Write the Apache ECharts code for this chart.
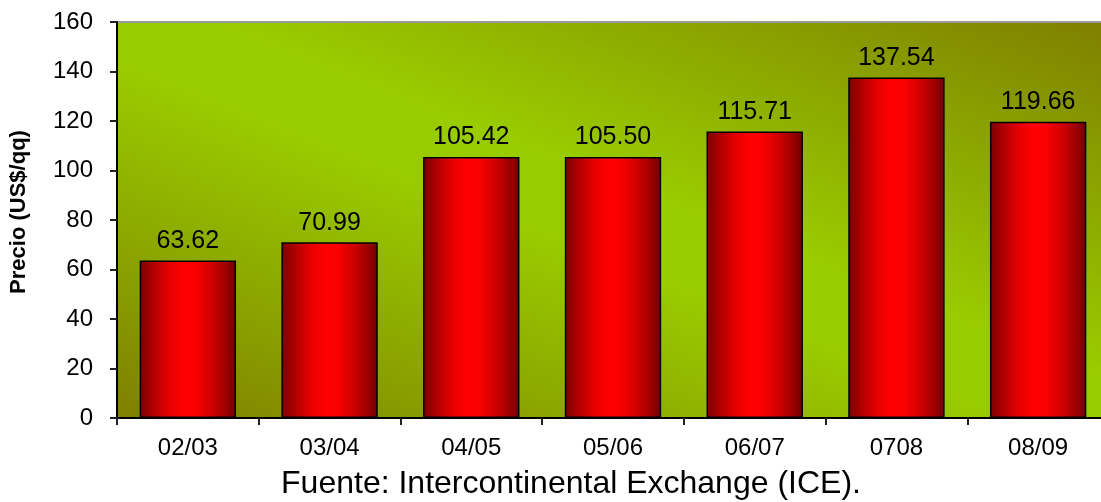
<!DOCTYPE html>
<html>
<head>
<meta charset="utf-8">
<script src="https://cdn.jsdelivr.net/npm/echarts@6/dist/echarts.min.js"></script>
<style>
  html, body { margin: 0; padding: 0; background: #ffffff; }
  #chart { width: 1101px; height: 502px; }
</style>
</head>
<body>
<div id="chart"></div>
<script>
// Marketing-year labels and average prices (US$/qq)
const seasons = ['02/03', '03/04', '04/05', '05/06', '06/07', '0708', '08/09'];
const prices = [63.62, 70.99, 105.42, 105.50, 115.71, 137.54, 119.66];
const yTicks = [0, 20, 40, 60, 80, 100, 120, 140, 160];

const FONT = '"Liberation Sans", Arial, sans-serif';

// Plot rectangle (the plot runs a little past the right edge of the page)
const plot = { left: 117, top: 22, width: 992, height: 396 };

// Diagonal olive → green → olive fill, iso-lines parallel to the top-left/bottom-right diagonal
function plotGradient() {
  const cx = plot.left + plot.width / 2;
  const cy = plot.top + plot.height / 2;
  const w = plot.width, h = plot.height;
  const len = Math.hypot(w, h);
  const nx = h / len, ny = -w / len;
  const half = (w / 2) * nx + (-h / 2) * ny;
  return new echarts.graphic.LinearGradient(
    cx - nx * half, cy - ny * half,
    cx + nx * half, cy + ny * half,
    [
      { offset: 0, color: '#7f7f00' },
      { offset: 0.45, color: '#99cc00' },
      { offset: 0.55, color: '#99cc00' },
      { offset: 1, color: '#7f7f00' }
    ],
    true
  );
}

// Cylinder-like horizontal shading for the bars
const barFill = new echarts.graphic.LinearGradient(0, 0, 1, 0, [
  { offset: 0, color: '#7a0000' },
  { offset: 0.12, color: '#a80000' },
  { offset: 0.3, color: '#e60000' },
  { offset: 0.45, color: '#ff0000' },
  { offset: 0.58, color: '#fa0000' },
  { offset: 0.75, color: '#d00000' },
  { offset: 0.9, color: '#9a0000' },
  { offset: 1, color: '#700000' }
]);

const chart = echarts.init(document.getElementById('chart'), null, { renderer: 'canvas' });

chart.setOption({
  animation: false,
  backgroundColor: '#ffffff',
  grid: {
    left: plot.left,
    top: plot.top,
    width: plot.width,
    height: plot.height,
    outerBoundsMode: 'none',
    containLabel: false,
    show: true,
    backgroundColor: plotGradient(),
    borderColor: '#9a9a9a',
    borderWidth: 2
  },
  xAxis: {
    type: 'category',
    data: seasons,
    axisLine: { show: true, lineStyle: { color: '#000000', width: 2 } },
    axisTick: { show: true, length: 7, lineStyle: { color: '#222222', width: 2 } },
    axisLabel: {
      color: '#000000',
      fontFamily: FONT,
      fontSize: 24,
      margin: 18
    }
  },
  yAxis: {
    type: 'value',
    min: yTicks[0],
    max: yTicks[yTicks.length - 1],
    interval: yTicks[1] - yTicks[0],
    splitLine: { show: false },
    axisLine: { show: true, lineStyle: { color: '#000000', width: 2 } },
    axisTick: { show: true, length: 7, lineStyle: { color: '#222222', width: 2 } },
    axisLabel: {
      color: '#000000',
      fontFamily: FONT,
      fontSize: 24,
      margin: 24
    }
  },
  series: [{
    type: 'bar',
    data: prices,
    barWidth: '68%',
    itemStyle: {
      color: barFill,
      borderColor: '#000000',
      borderWidth: 1.5
    },
    label: {
      show: true,
      position: 'top',
      distance: 7,
      color: '#000000',
      fontFamily: FONT,
      fontSize: 25,
      formatter: p => p.value.toFixed(2)
    }
  }],
  graphic: [
    {
      // vertical axis title
      type: 'text',
      x: 19,
      y: 212,
      rotation: Math.PI / 2,
      style: {
        text: 'Precio (US$/qq)',
        fill: '#000000',
        font: 'bold 22px ' + FONT,
        textAlign: 'center',
        textVerticalAlign: 'middle'
      }
    },
    {
      // source note
      type: 'text',
      x: 571,
      y: 484,
      style: {
        text: 'Fuente: Intercontinental Exchange (ICE).',
        fill: '#000000',
        font: '32px ' + FONT,
        textAlign: 'center',
        textVerticalAlign: 'middle'
      }
    }
  ]
});
</script>
</body>
</html>
